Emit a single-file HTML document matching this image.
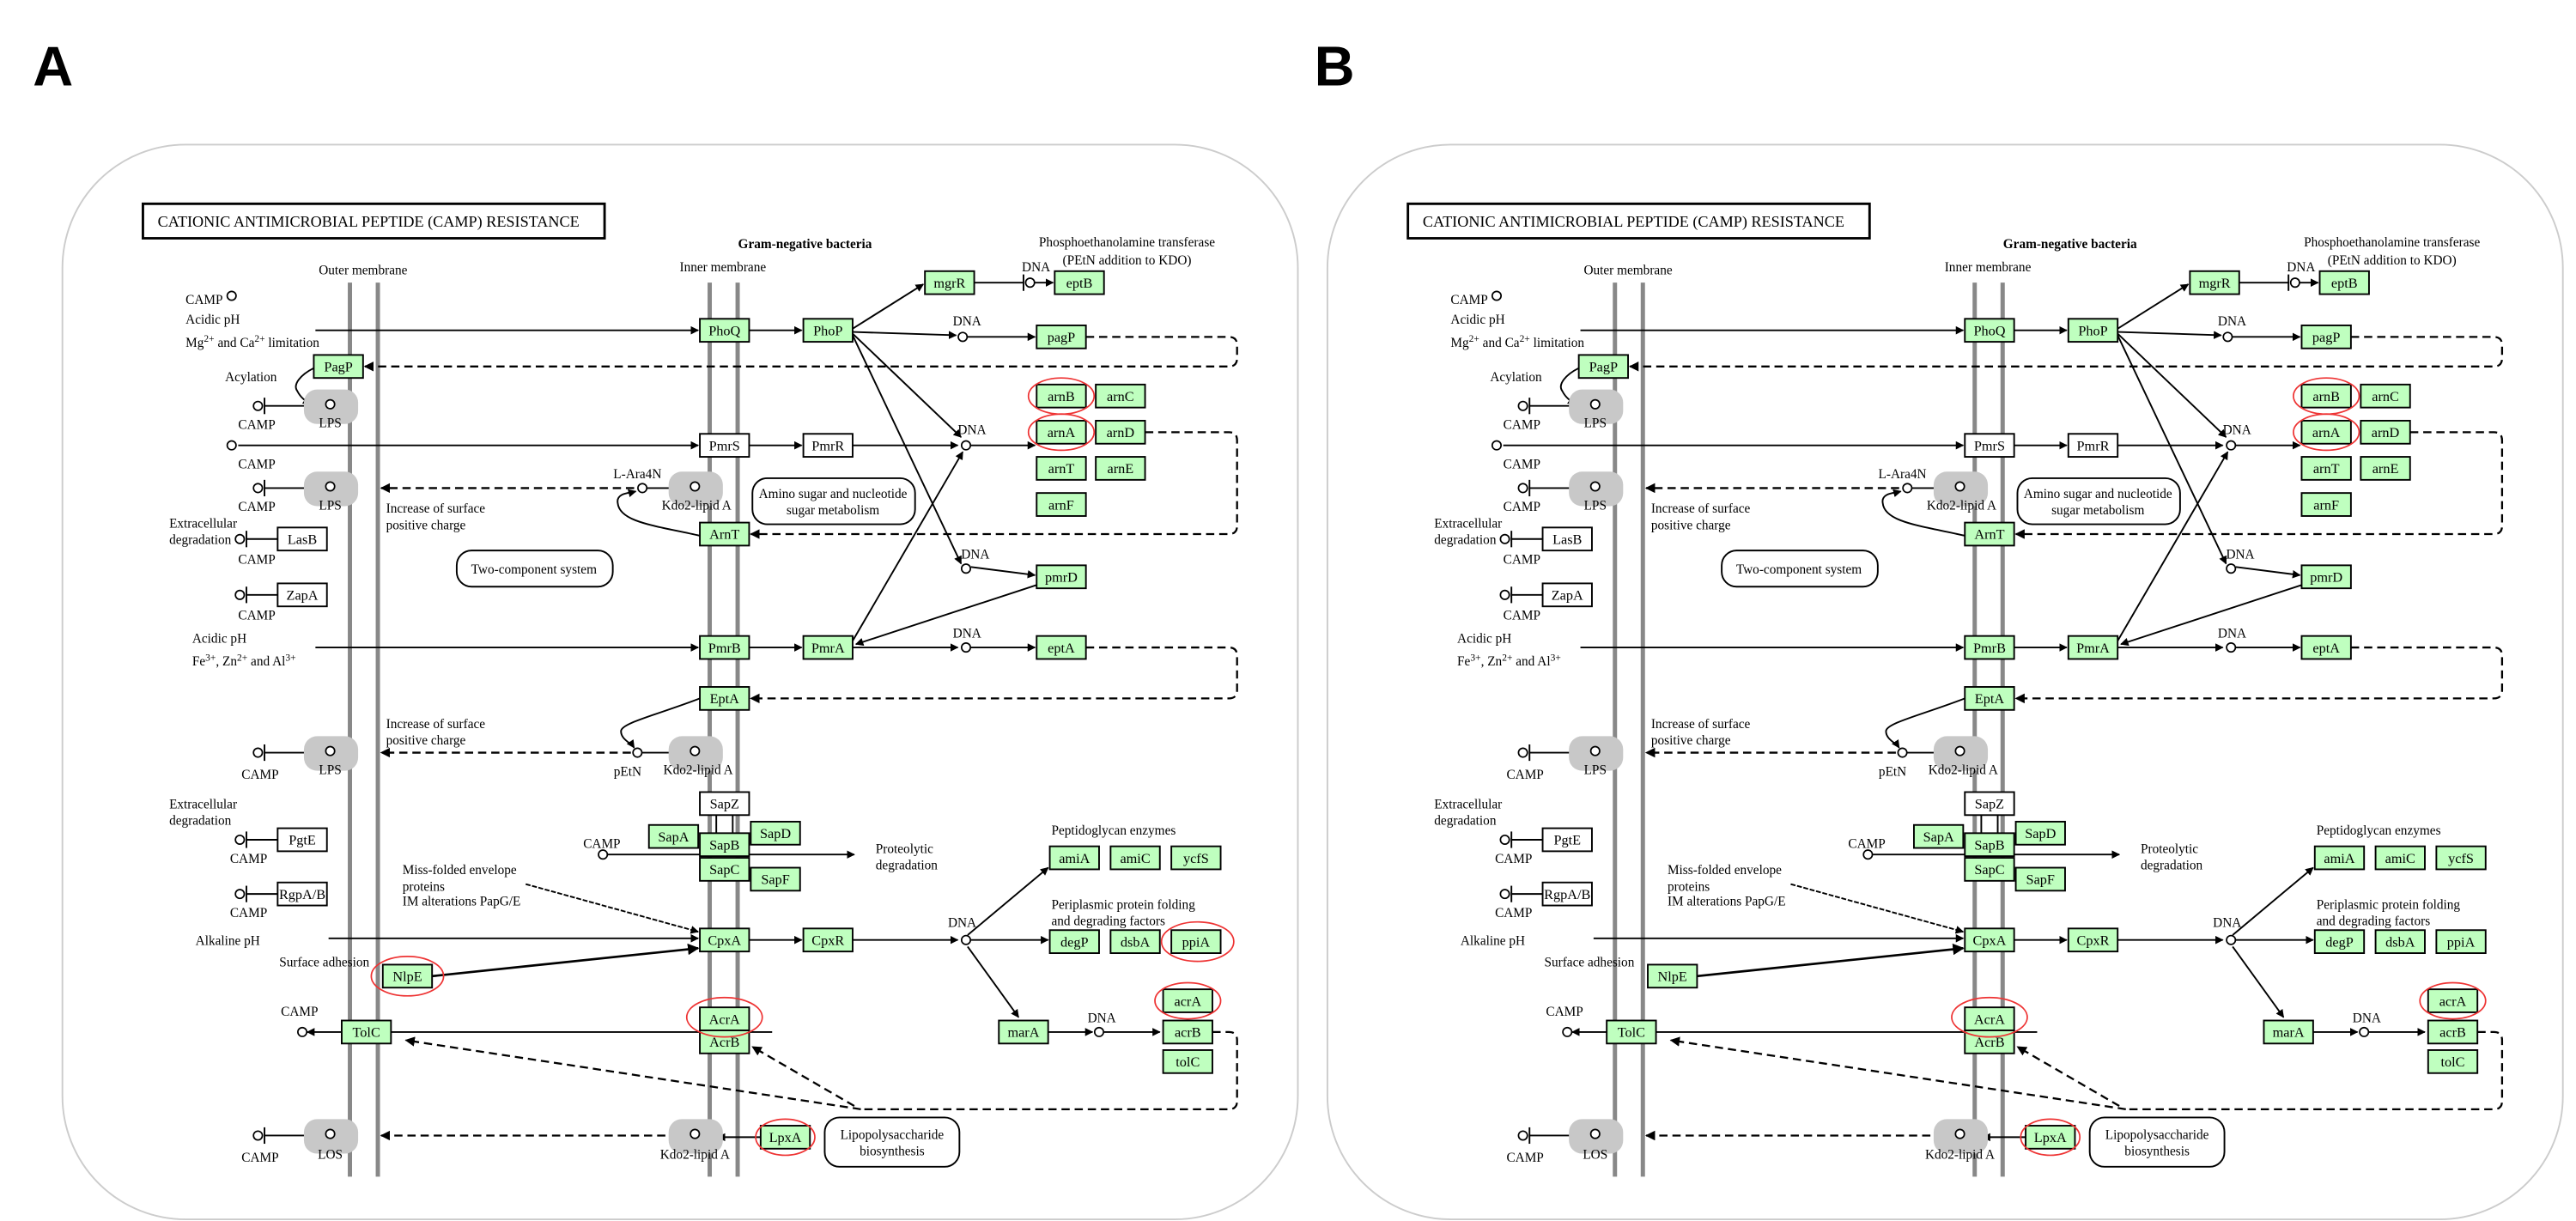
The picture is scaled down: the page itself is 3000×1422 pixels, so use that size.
<!DOCTYPE html>
<html><head><meta charset="utf-8"><style>
html,body{margin:0;padding:0;background:#fff;}
svg{display:block;}
text{font-family:"Liberation Serif",serif;font-size:8px;fill:#000;}
.n{text-anchor:middle;font-size:8.5px;}
.c{text-anchor:middle;}
</style></head><body>
<svg width="3000" height="1422" viewBox="0 0 1568 743" preserveAspectRatio="none" xmlns="http://www.w3.org/2000/svg">
<defs>
<marker id="a" viewBox="0 0 10 10" refX="9" refY="5" markerWidth="5" markerHeight="5" orient="auto"><path d="M0,0L10,5L0,10z" fill="#000"/></marker>
<g id="P">
<rect x="38" y="88" width="752" height="654" rx="75" fill="none" stroke="#ccc" stroke-width="1"/>
<rect x="87" y="124" width="281" height="21" fill="#fff" stroke="#000" stroke-width="1.5"/>
<text x="96" y="138" style="font-size:9.5px">CATIONIC ANTIMICROBIAL PEPTIDE (CAMP) RESISTANCE</text>
<text x="221" y="167" class="c">Outer membrane</text>
<text x="440" y="165" class="c">Inner membrane</text>
<text x="490" y="151" class="c" style="font-weight:bold">Gram-negative bacteria</text>
<text x="686" y="150" class="c">Phosphoethanolamine transferase</text>
<text x="686" y="161" class="c">(PEtN addition to KDO)</text>
<g stroke="#888" stroke-width="2.6"><line x1="213" y1="172" x2="213" y2="716"/><line x1="230" y1="172" x2="230" y2="716"/><line x1="432" y1="172" x2="432" y2="716"/><line x1="449" y1="172" x2="449" y2="716"/></g>
<!-- solid arrows -->
<g stroke="#000" stroke-width="1" fill="none">
<line x1="192" y1="201" x2="425" y2="201" marker-end="url(#a)"/>
<line x1="456" y1="201" x2="488" y2="201" marker-end="url(#a)"/>
<line x1="519" y1="200" x2="562" y2="173" marker-end="url(#a)"/>
<line x1="593" y1="172" x2="623" y2="172"/><line x1="623" y1="167" x2="623" y2="177"/>
<line x1="630" y1="172" x2="641" y2="172" marker-end="url(#a)"/>
<line x1="519" y1="202" x2="582" y2="204" marker-end="url(#a)"/>
<line x1="588" y1="205" x2="630" y2="205" marker-end="url(#a)"/>
<line x1="519" y1="203" x2="585" y2="266" marker-end="url(#a)"/>
<line x1="519" y1="204" x2="585" y2="343" marker-end="url(#a)"/>
<line x1="145" y1="271" x2="425" y2="271" marker-end="url(#a)"/>
<line x1="456" y1="271" x2="488" y2="271" marker-end="url(#a)"/>
<line x1="519" y1="271" x2="583" y2="271" marker-end="url(#a)"/>
<line x1="591" y1="271" x2="630" y2="271" marker-end="url(#a)"/>
<path d="M426,326 C400,320 377,318 376,306 C375,300 383,300 387,299" marker-end="url(#a)"/>
<line x1="394" y1="297" x2="410" y2="297"/>
<path d="M191,224 C183,228 178,234 181,238 C183,242 186,244 189,246" marker-end="url(#a)"/>
<line x1="161" y1="247" x2="186" y2="247"/><line x1="161" y1="242" x2="161" y2="252"/>
<line x1="161" y1="297" x2="186" y2="297"/><line x1="161" y1="292" x2="161" y2="302"/>
<line x1="161" y1="458" x2="186" y2="458"/><line x1="161" y1="453" x2="161" y2="463"/>
<line x1="161" y1="691" x2="186" y2="691"/><line x1="161" y1="686" x2="161" y2="696"/>
<line x1="150" y1="328" x2="169" y2="328"/><line x1="150" y1="323" x2="150" y2="333"/>
<line x1="150" y1="362" x2="169" y2="362"/><line x1="150" y1="357" x2="150" y2="367"/>
<line x1="150" y1="511" x2="169" y2="511"/><line x1="150" y1="506" x2="150" y2="516"/>
<line x1="150" y1="544" x2="169" y2="544"/><line x1="150" y1="539" x2="150" y2="549"/>
<line x1="591" y1="345" x2="630" y2="350" marker-end="url(#a)"/>
<line x1="631" y1="356" x2="521" y2="392" marker-end="url(#a)"/>
<line x1="519" y1="390" x2="586" y2="275" marker-end="url(#a)"/>
<line x1="192" y1="394" x2="425" y2="394" marker-end="url(#a)"/>
<line x1="456" y1="394" x2="488" y2="394" marker-end="url(#a)"/>
<line x1="519" y1="394" x2="583" y2="394" marker-end="url(#a)"/>
<line x1="591" y1="394" x2="630" y2="394" marker-end="url(#a)"/>
<path d="M426,425 C400,435 378,440 378,445 C378,450 384,452 386,455" marker-end="url(#a)"/>
<line x1="391" y1="458" x2="410" y2="458"/>
<line x1="370" y1="520" x2="520" y2="520" marker-end="url(#a)"/>
<line x1="436" y1="496" x2="436" y2="507"/><line x1="446" y1="496" x2="446" y2="507"/>
<line x1="320" y1="538" x2="425" y2="567" marker-end="url(#a)" stroke-dasharray="3,1"/>
<line x1="200" y1="571" x2="425" y2="571" marker-end="url(#a)"/>
<line x1="263" y1="594" x2="425" y2="577" marker-end="url(#a)" stroke-width="1.4"/>
<line x1="456" y1="572" x2="488" y2="572" marker-end="url(#a)"/>
<line x1="519" y1="572" x2="583" y2="572" marker-end="url(#a)"/>
<line x1="591" y1="572" x2="638" y2="572" marker-end="url(#a)"/>
<line x1="589" y1="569" x2="638" y2="528" marker-end="url(#a)"/>
<line x1="589" y1="576" x2="620" y2="619" marker-end="url(#a)"/>
<line x1="638" y1="628" x2="665" y2="628" marker-end="url(#a)"/>
<line x1="672" y1="628" x2="706" y2="628" marker-end="url(#a)"/>
<line x1="470" y1="628" x2="187" y2="628" marker-end="url(#a)"/>
<line x1="463" y1="692" x2="437" y2="692" marker-end="url(#a)"/>
</g>
<!-- dashed -->
<g stroke="#000" stroke-width="1.2" fill="none" stroke-dasharray="5,3">
<path d="M661,205 H748 Q753,205 753,210 V218 Q753,223 748,223 H222" marker-end="url(#a)"/>
<path d="M697,263 H748 Q753,263 753,268 V320 Q753,325 748,325 H457" marker-end="url(#a)"/>
<path d="M661,394 H748 Q753,394 753,399 V420 Q753,425 748,425 H457" marker-end="url(#a)"/>
<line x1="386" y1="297" x2="232" y2="297" marker-end="url(#a)"/>
<line x1="384" y1="458" x2="232" y2="458" marker-end="url(#a)"/>
<line x1="405" y1="691" x2="232" y2="691" marker-end="url(#a)"/>
<path d="M738,628 H748 Q753,628 753,633 V670 Q753,675 748,675 H524"/>
<line x1="524" y1="675" x2="247" y2="633" marker-end="url(#a)"/>
<line x1="520" y1="673" x2="458" y2="637" marker-end="url(#a)"/>
</g>
<!-- blobs -->
<g fill="#c8c8c8"><rect x="185" y="237" width="33" height="21" rx="8"/><rect x="185" y="287" width="33" height="21" rx="8"/><rect x="185" y="448" width="33" height="21" rx="8"/><rect x="185" y="681" width="33" height="21" rx="8"/><rect x="407" y="287" width="33" height="21" rx="8"/><rect x="407" y="448" width="33" height="21" rx="8"/><rect x="407" y="681" width="33" height="21" rx="8"/></g>
<g fill="#fff" stroke="#000" stroke-width="0.9">
<circle cx="201" cy="246" r="2.7"/><circle cx="201" cy="296" r="2.7"/><circle cx="201" cy="457" r="2.7"/><circle cx="201" cy="690" r="2.7"/><circle cx="423" cy="296" r="2.7"/><circle cx="423" cy="457" r="2.7"/><circle cx="423" cy="690" r="2.7"/>
<circle cx="141" cy="180" r="2.7"/><circle cx="157" cy="247" r="2.7"/><circle cx="141" cy="271" r="2.7"/><circle cx="157" cy="297" r="2.7"/><circle cx="146" cy="328" r="2.7"/><circle cx="146" cy="362" r="2.7"/><circle cx="157" cy="458" r="2.7"/><circle cx="146" cy="511" r="2.7"/><circle cx="146" cy="544" r="2.7"/><circle cx="157" cy="691" r="2.7"/><circle cx="184" cy="628" r="2.7"/><circle cx="367" cy="520" r="2.7"/>
<circle cx="627" cy="172" r="2.7"/><circle cx="586" cy="205" r="2.7"/><circle cx="588" cy="271" r="2.7"/><circle cx="588" cy="346" r="2.7"/><circle cx="588" cy="394" r="2.7"/><circle cx="391" cy="297" r="2.7"/><circle cx="388" cy="458" r="2.7"/><circle cx="588" cy="572" r="2.7"/><circle cx="669" cy="628" r="2.7"/>
</g>
<!-- rounded text boxes -->
<g fill="#fff" stroke="#000" stroke-width="1"><rect x="278" y="335" width="95" height="22" rx="9"/><rect x="458" y="291" width="99" height="28" rx="9"/><rect x="502" y="680" width="82" height="30" rx="9"/></g>
<text x="325" y="349" class="c">Two-component system</text>
<text x="507" y="303" class="c">Amino sugar and nucleotide</text><text x="507" y="313" class="c">sugar metabolism</text>
<text x="543" y="693" class="c">Lipopolysaccharide</text><text x="543" y="703" class="c">biosynthesis</text>
<!-- green nodes -->
<g fill="#bfffbf" stroke="#000" stroke-width="1">
<rect x="426" y="194" width="30" height="14"/><rect x="489" y="194" width="30" height="14"/><rect x="563" y="165" width="30" height="14"/><rect x="642" y="165" width="30" height="14"/><rect x="631" y="198" width="30" height="14"/><rect x="191" y="216" width="30" height="14"/>
<rect x="631" y="234" width="30" height="14"/><rect x="667" y="234" width="30" height="14"/><rect x="631" y="256" width="30" height="14"/><rect x="667" y="256" width="30" height="14"/><rect x="631" y="278" width="30" height="14"/><rect x="667" y="278" width="30" height="14"/><rect x="631" y="300" width="30" height="14"/>
<rect x="426" y="318" width="30" height="14"/><rect x="631" y="344" width="30" height="14"/><rect x="426" y="387" width="30" height="14"/><rect x="489" y="387" width="30" height="14"/><rect x="631" y="387" width="30" height="14"/><rect x="426" y="418" width="30" height="14"/>
<rect x="395" y="502" width="30" height="14"/><rect x="457" y="500" width="30" height="14"/><rect x="426" y="507" width="30" height="14"/><rect x="426" y="522" width="30" height="14"/><rect x="457" y="528" width="30" height="14"/>
<rect x="426" y="565" width="30" height="14"/><rect x="489" y="565" width="30" height="14"/><rect x="639" y="566" width="30" height="14"/><rect x="676" y="566" width="30" height="14"/><rect x="713" y="566" width="30" height="14"/><rect x="639" y="515" width="30" height="14"/><rect x="676" y="515" width="30" height="14"/><rect x="713" y="515" width="30" height="14"/>
<rect x="233" y="587" width="30" height="14"/><rect x="208" y="621" width="30" height="14"/><rect x="426" y="613" width="30" height="14"/><rect x="426" y="627" width="30" height="14"/><rect x="708" y="602" width="30" height="14"/><rect x="708" y="621" width="30" height="14"/><rect x="708" y="639" width="30" height="14"/><rect x="608" y="621" width="30" height="14"/><rect x="463" y="685" width="30" height="14"/>
</g>
<g fill="#fff" stroke="#000" stroke-width="1"><rect x="426" y="264" width="30" height="14"/><rect x="489" y="264" width="30" height="14"/><rect x="426" y="482" width="30" height="14"/><rect x="169" y="321" width="30" height="14"/><rect x="169" y="355" width="30" height="14"/><rect x="169" y="504" width="30" height="14"/><rect x="169" y="537" width="30" height="14"/></g>
<text class="n" x="441" y="204">PhoQ</text><text class="n" x="504" y="204">PhoP</text><text class="n" x="578" y="175">mgrR</text><text class="n" x="657" y="175">eptB</text><text class="n" x="646" y="208">pagP</text><text class="n" x="206" y="226">PagP</text>
<text class="n" x="646" y="244">arnB</text><text class="n" x="682" y="244">arnC</text><text class="n" x="646" y="266">arnA</text><text class="n" x="682" y="266">arnD</text><text class="n" x="646" y="288">arnT</text><text class="n" x="682" y="288">arnE</text><text class="n" x="646" y="310">arnF</text>
<text class="n" x="441" y="328">ArnT</text><text class="n" x="646" y="354">pmrD</text><text class="n" x="441" y="397">PmrB</text><text class="n" x="504" y="397">PmrA</text><text class="n" x="646" y="397">eptA</text><text class="n" x="441" y="428">EptA</text>
<text class="n" x="441" y="274">PmrS</text><text class="n" x="504" y="274">PmrR</text><text class="n" x="441" y="492">SapZ</text><text class="n" x="184" y="331">LasB</text><text class="n" x="184" y="365">ZapA</text><text class="n" x="184" y="514">PgtE</text><text class="n" x="184" y="547">RgpA/B</text>
<text class="n" x="410" y="512">SapA</text><text class="n" x="472" y="510">SapD</text><text class="n" x="441" y="517">SapB</text><text class="n" x="441" y="532">SapC</text><text class="n" x="472" y="538">SapF</text>
<text class="n" x="441" y="575">CpxA</text><text class="n" x="504" y="575">CpxR</text><text class="n" x="654" y="576">degP</text><text class="n" x="691" y="576">dsbA</text><text class="n" x="728" y="576">ppiA</text><text class="n" x="654" y="525">amiA</text><text class="n" x="691" y="525">amiC</text><text class="n" x="728" y="525">ycfS</text>
<text class="n" x="248" y="597">NlpE</text><text class="n" x="223" y="631">TolC</text><text class="n" x="441" y="623">AcrA</text><text class="n" x="441" y="637">AcrB</text><text class="n" x="723" y="612">acrA</text><text class="n" x="723" y="631">acrB</text><text class="n" x="723" y="649">tolC</text><text class="n" x="623" y="631">marA</text><text class="n" x="478" y="695">LpxA</text>
<!-- labels -->
<text x="113" y="185">CAMP</text><text x="113" y="197">Acidic pH</text><text x="113" y="211">Mg<tspan dy="-3" style="font-size:6px">2+</tspan><tspan dy="3"> and Ca</tspan><tspan dy="-3" style="font-size:6px">2+</tspan><tspan dy="3">  limitation</tspan></text>
<text x="137" y="232">Acylation</text>
<text x="145" y="261">CAMP</text><text x="201" y="260" class="c">LPS</text>
<text x="145" y="285">CAMP</text>
<text x="145" y="311">CAMP</text><text x="201" y="310" class="c">LPS</text>
<text x="235" y="312">Increase of surface</text><text x="235" y="322">positive charge</text>
<text x="388" y="291" class="c">L-Ara4N</text><text x="424" y="310" class="c">Kdo2-lipid A</text>
<text x="103" y="321">Extracellular</text><text x="103" y="331">degradation</text><text x="145" y="343">CAMP</text>
<text x="145" y="377">CAMP</text>
<text x="117" y="391">Acidic pH</text><text x="117" y="405">Fe<tspan dy="-3" style="font-size:6px">3+</tspan><tspan dy="3">, Zn</tspan><tspan dy="-3" style="font-size:6px">2+</tspan><tspan dy="3"> and Al</tspan><tspan dy="-3" style="font-size:6px">3+</tspan></text>
<text x="235" y="443">Increase of surface</text><text x="235" y="453">positive charge</text>
<text x="147" y="474">CAMP</text><text x="201" y="471" class="c">LPS</text><text x="382" y="472" class="c">pEtN</text><text x="425" y="471" class="c">Kdo2-lipid A</text>
<text x="103" y="492">Extracellular</text><text x="103" y="502">degradation</text><text x="140" y="525">CAMP</text><text x="140" y="558">CAMP</text>
<text x="355" y="516">CAMP</text><text x="533" y="519">Proteolytic</text><text x="533" y="529">degradation</text>
<text x="245" y="532">Miss-folded envelope</text><text x="245" y="542">proteins</text><text x="245" y="551">IM alterations PapG/E</text>
<text x="119" y="575">Alkaline pH</text><text x="170" y="588">Surface adhesion</text>
<text x="640" y="508">Peptidoglycan enzymes</text><text x="640" y="553">Periplasmic protein folding</text><text x="640" y="563">and degrading factors</text>
<text x="171" y="618">CAMP</text><text x="147" y="707">CAMP</text><text x="201" y="705" class="c">LOS</text><text x="423" y="705" class="c">Kdo2-lipid A</text>
<text x="622" y="165">DNA</text><text x="580" y="198">DNA</text><text x="583" y="264">DNA</text><text x="585" y="340">DNA</text><text x="580" y="388">DNA</text><text x="577" y="564">DNA</text><text x="662" y="622">DNA</text>
<g fill="none" stroke="#e33" stroke-width="0.9" class="rc"><ellipse cx="646" cy="241" rx="20" ry="11"/><ellipse cx="646" cy="263" rx="20" ry="11"/><ellipse cx="441" cy="619" rx="23" ry="12"/><ellipse cx="723" cy="609" rx="20" ry="11"/><ellipse cx="478" cy="692" rx="18" ry="11"/></g>
</g>
</defs>
<rect width="1568" height="743" fill="#fff"/>
<text x="20" y="52" style="font-family:'Liberation Sans',sans-serif;font-size:34px;font-weight:bold">A</text>
<text x="800" y="52" style="font-family:'Liberation Sans',sans-serif;font-size:34px;font-weight:bold">B</text>
<use href="#P"/>
<g fill="none" stroke="#e33" stroke-width="0.9"><ellipse cx="729" cy="573" rx="22" ry="12"/><ellipse cx="248" cy="594" rx="22" ry="12"/></g>
<use href="#P" transform="translate(770,0)"/>
</svg>
</body></html>
